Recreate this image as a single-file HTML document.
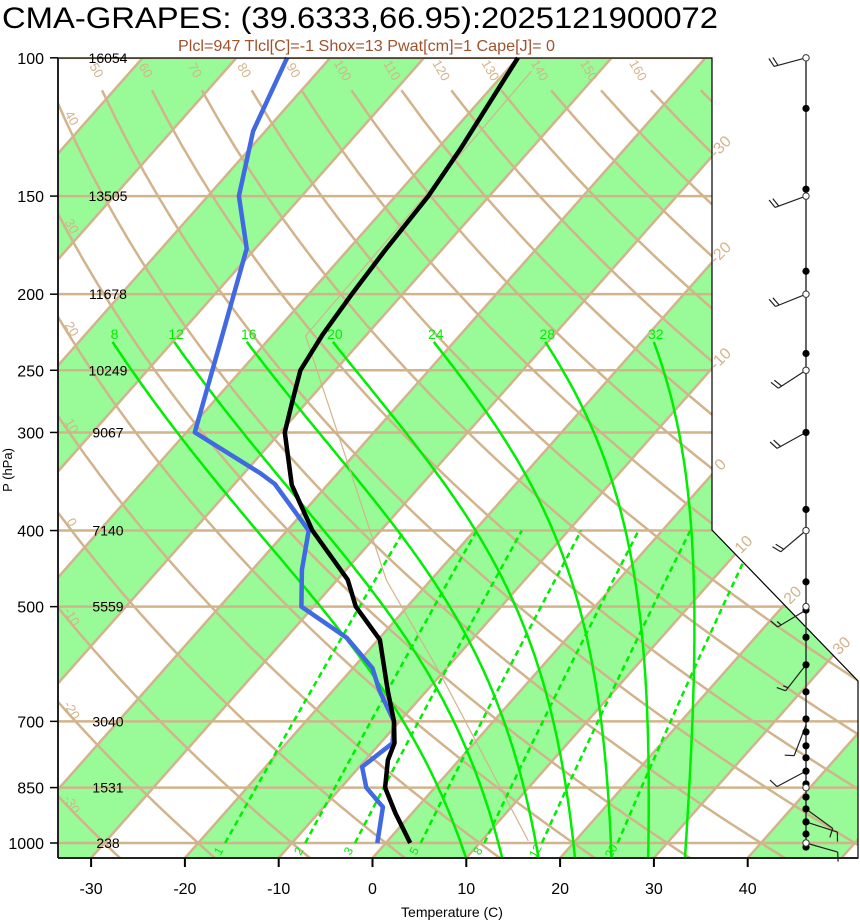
<!DOCTYPE html>
<html><head><meta charset="utf-8">
<style>
html,body{margin:0;padding:0;background:#fff;}
svg{display:block;font-family:"Liberation Sans",sans-serif;}
</style></head>
<body>
<svg id="chart" width="860" height="921" viewBox="0 0 860 921" xmlns="http://www.w3.org/2000/svg">
<defs><clipPath id="plotclip"><polygon points="58,58 712,58 712,530 858,681 858,858 58,858"/></clipPath></defs>
<text x="2" y="28" font-size="30" textLength="716" lengthAdjust="spacingAndGlyphs" fill="#000">CMA-GRAPES: (39.6333,66.95):2025121900072</text>
<text x="178" y="51" font-size="16" textLength="377" lengthAdjust="spacingAndGlyphs" fill="#a0522d">Plcl=947 Tlcl[C]=-1 Shox=13 Pwat[cm]=1 Cape[J]= 0</text>
<g id="bg" clip-path="url(#plotclip)"></g>
<g id="fg"></g>
</svg>
<script>
// ---- data ----
const isobars = [100,150,200,250,300,400,500,700,850,1000];
const heights = ["16054","13505","11678","10249","9067","7140","5559","3040","1531","238"];
const tempTicks = [-30,-20,-10,0,10,20,30,40];
const greenBandStarts = [-100,-80,-60,-40,-20,0,20,40];
const isothermValues = [-110,-100,-90,-80,-70,-60,-50,-40,-30,-20,-10,0,10,20,30,40,50,60];
const isothermLabels = [-30,-20,-10,0,10,20,30];
const dryThetas = [-30,-20,-10,0,10,20,30,40,50,60,70,80,90,100,110,120,130,140,150,160,170,180];
const moistThetaW = [8,12,16,20,24,28,32];
const mixRatios = [1,2,3,5,8,12,20];
const tempP = [1000,916,850,784,746,700,639,551,500,462,400,350,300,273,250,225,200,176,150,131,100];
const tempT = [2.6,-1.8,-5.3,-7.6,-8.5,-10.6,-14.2,-19.8,-25.5,-28.9,-37.3,-43.8,-49.5,-51.7,-53.7,-54.7,-55.4,-56.0,-56.5,-57.5,-60.0];
const dewP = [1000,900,850,800,746,700,639,599,548,500,449,400,349,338,300,227,175,150,124,100];
const dewT = [-0.9,-3.7,-7.3,-9.7,-8.7,-10.6,-15.1,-17.9,-23.5,-31.3,-34.7,-37.7,-45.7,-48.3,-59.1,-65.2,-70.9,-76.7,-81.3,-84.6];
const parcelP = [994,607,463,226,104];
const parcelT = [15.0,-10.3,-24.7,-56.4,-57.3];
const dotFilledP = [116,147,187,238,300,376,465,505,547,593,642,695,722,752,779,810,841,874,905,940,974,1012];
const dotOpenP = [100,150,200,250,400,500,850,1000];
const barbP = [100,150,200,250,300,400,505,593,707,810,905,940,1000];
const barbDir = [255,250,248,237,241,230,239,218,201,242,126,108,106];
const barbSpd = [20,20,20,20,20,20,15,15,10,10,10,10,10];

// ---- scales ----
const NS="http://www.w3.org/2000/svg";
function yP(p){return 843-341*Math.log(1000/p);}
function xT(T,p){return 372.5+9.38*T+0.885*(858-yP(p));}
function xAxisT(T){return 372.5+9.38*T;}
const bg=document.getElementById('bg'), fg=document.getElementById('fg');
function mk(tag,attrs,parent){const e=document.createElementNS(NS,tag);for(const k in attrs)e.setAttribute(k,attrs[k]);parent.appendChild(e);return e;}
function pts(arr){return arr.map(a=>a[0].toFixed(1)+','+a[1].toFixed(1)).join(' ');}
const TAN="#d2b48c", LIME="#00ee00";

greenBandStarts.forEach(t=>{
  const e=mk('polygon',{points:pts([[xT(t,1100),yP(1100)],[xT(t+10,1100),yP(1100)],[xT(t+10,80),yP(80)],[xT(t,80),yP(80)]]),fill:'#98fb98'},bg);
  
  
});
isobars.forEach(p=>{
  const e=mk('line',{x1:58,x2:858,y1:yP(p),y2:yP(p),stroke:TAN,'stroke-width':2.5},bg);
  
  
});
isothermValues.forEach(t=>{
  const e=mk('line',{x1:xT(t,1100),y1:yP(1100),x2:xT(t,80),y2:yP(80),stroke:TAN,'stroke-width':2.5},bg);
  
  
});
function dryT(th,p){return (th+273.15)*Math.pow(p/1000,0.286)-273.15;}
dryThetas.forEach(th=>{
  const a=[];for(let p=1100;p>=110;p-=10)a.push([xT(dryT(th,p),p),yP(p)]);
  a.push([xT(dryT(th,110),110),yP(110)]);
  const e=mk('polyline',{points:pts(a),fill:'none',stroke:TAN,'stroke-width':2.5},bg);
  
  
});
function dTdp(T,p){const es=6.112*Math.exp(17.67*(T-273.15)/(T-29.65));const rs=0.622*es/(p-es);const Lv=2.501e6,Rd=287,cp=1005;
  return ((Rd*T+Lv*rs)/p)/(cp+Lv*Lv*rs*0.622/(Rd*T*T));}
function moistCurve(thw){const up=[],down=[];let T=thw+273.15,p=1000;
  up.push([p,T]);
  while(p>230){const dp=-Math.min(5,p-230);const k1=dTdp(T,p);const k2=dTdp(T+k1*dp,p+dp);T+=0.5*(k1+k2)*dp;p+=dp;up.push([p,T]);}
  T=thw+273.15;p=1000;
  while(p<1060){const dp=5;const k1=dTdp(T,p);const k2=dTdp(T+k1*dp,p+dp);T+=0.5*(k1+k2)*dp;p+=dp;down.unshift([p,T]);}
  return down.concat(up).map(a=>[a[0],a[1]-273.15]);}
const moistG=mk('g',{'clip-path':'url(#plotclip)'},fg);
moistThetaW.forEach(th=>{
  const c=moistCurve(th);
  const e=mk('polyline',{points:pts(c.map(a=>[xT(a[1],a[0]),yP(a[0])])),fill:'none',stroke:LIME,'stroke-width':2.5},moistG);
  
  
  const top=c[c.length-1];
  const l=mk('text',{x:xT(top[1],top[0])+2,y:yP(top[0])-3,'font-size':14,fill:LIME,'text-anchor':'middle'},fg);
  l.textContent=th;
  
  
});
function mixT(w,p){const e=(w/1000)*p/(0.622+w/1000);const a=Math.log(e/6.112);return 243.5*a/(17.67-a);}
mixRatios.forEach(w=>{
  const a=[];for(let p=1000;p>=400;p-=20)a.push([xT(mixT(w,p),p),yP(p)]);
  const e=mk('polyline',{points:pts(a),fill:'none',stroke:LIME,'stroke-width':2.5,'stroke-dasharray':'6,4'},moistG);
  
  
  const lx=xT(mixT(w,1000),1000)-3, ly=yP(1000)+10;
  const l=mk('text',{x:lx,y:ly,'font-size':12,fill:LIME,'text-anchor':'middle',transform:`rotate(-60 ${lx} ${ly})`},fg);
  l.textContent=w;
  
  
});
dryThetas.forEach(th=>{
  if(th>160)return;
  let lx,ly;
  const xTop=xT(dryT(th,105),105);
  if(xTop>62){lx=xTop-2;ly=yP(105)-2;}
  else{let p=105;while(p<1100&&xT(dryT(th,p),p)<62)p+=1;if(p>=1050)return;lx=68;ly=yP(p)+6;}
  const l=mk('text',{x:lx,y:ly,'font-size':13,fill:TAN,'text-anchor':'middle',transform:`rotate(60 ${lx} ${ly})`},fg);
  l.textContent=th;
  
  
});
isothermLabels.forEach(t=>{
  let y=(372.5+9.38*t+0.885*858-712)/0.885, x=712;
  if(y>530){y=(372.5+9.38*t+0.885*858-712+530*0.967)/(0.885+0.967);x=712+(y-530)*0.967;}
  const lx=x+12, ly=y-6;
  const l=mk('text',{x:lx,y:ly,'font-size':16,fill:TAN,'text-anchor':'middle',transform:`rotate(-45 ${lx} ${ly})`},fg);
  l.textContent=t;
  
  
});
const pe=mk('polyline',{points:pts(parcelP.map((p,i)=>[xT(parcelT[i],p),yP(p)])),fill:'none',stroke:TAN,'stroke-width':1.2},moistG);


const de=mk('polyline',{points:pts(dewP.map((p,i)=>[xT(dewT[i],p),yP(p)])),fill:'none',stroke:'#4169e1','stroke-width':4.5,'stroke-linejoin':'round'},fg);


const te=mk('polyline',{points:pts(tempP.map((p,i)=>[xT(tempT[i],p),yP(p)])),fill:'none',stroke:'#000','stroke-width':4.5,'stroke-linejoin':'round'},fg);



const fr=mk('polyline',{points:'58,858 58,58 712,58 712,530 858,681 858,858 58,858',fill:'none',stroke:'#000','stroke-width':1.2},fg);


mk('line',{x1:58,y1:58,x2:58,y2:858,stroke:'#222','stroke-width':2},fg);
mk('line',{x1:58,y1:858,x2:858,y2:858,stroke:'#222','stroke-width':2},fg);
isobars.forEach((p,i)=>{
  const y=yP(p);
  mk('line',{x1:50,x2:58,y1:y,y2:y,stroke:'#000','stroke-width':1.5},fg);
  const l=mk('text',{x:44,y:y+6,'font-size':16,'text-anchor':'end',fill:'#000'},fg);
  l.textContent=p;
  
  
  const h=mk('text',{x:108,y:y+5,'font-size':14,'text-anchor':'middle',fill:'#000'},fg);
  h.textContent=heights[i];
  
  
});
tempTicks.forEach(t=>{
  const x=xAxisT(t);
  mk('line',{x1:x,x2:x,y1:858,y2:867,stroke:'#000','stroke-width':2},fg);
  const l=mk('text',{x:x,y:894,'font-size':16,'text-anchor':'middle',fill:'#000'},fg);
  l.textContent=t;
  
  
});
const xt=mk('text',{x:452,y:917,'font-size':14,'text-anchor':'middle',fill:'#000'},fg);
xt.textContent='Temperature (C)';


const yt=mk('text',{x:12,y:470,'font-size':13,'text-anchor':'middle',fill:'#000',transform:'rotate(-90 12 470)'},fg);
yt.textContent='P (hPa)';



const WX=806;
const st=mk('line',{x1:WX,x2:WX,y1:yP(100),y2:yP(1000),stroke:'#333','stroke-width':1.5},fg);


barbP.forEach((p,i)=>{
  const y=yP(p), d=barbDir[i]*Math.PI/180;
  const ux=Math.sin(d), uy=-Math.cos(d), L=33;
  const ex=WX+ux*L, ey=y+uy*L;
  let path=`M${WX},${y.toFixed(1)} L${ex.toFixed(1)},${ey.toFixed(1)}`;
  const px=-uy, py=ux;
  let n=Math.floor(barbSpd[i]/10), half=(barbSpd[i]%10)>=5;
  for(let k=0;k<n;k++){const bx=WX+ux*(L-k*4),by=y+uy*(L-k*4);path+=` M${bx.toFixed(1)},${by.toFixed(1)} l${(px*9+ux*3).toFixed(1)},${(py*9+uy*3).toFixed(1)}`;}
  if(half){const bx=WX+ux*(L-n*4),by=y+uy*(L-n*4);path+=` M${bx.toFixed(1)},${by.toFixed(1)} l${(px*5+ux*1.5).toFixed(1)},${(py*5+uy*1.5).toFixed(1)}`;}
  const e=mk('path',{d:path,fill:'none',stroke:'#222','stroke-width':1.2},fg);
  
  
});
dotFilledP.forEach(p=>{
  const e=mk('circle',{cx:WX,cy:yP(p),r:3.6,fill:'#000'},fg);
  
  
});
dotOpenP.forEach(p=>{
  const e=mk('circle',{cx:WX,cy:yP(p),r:3.2,fill:'#fff',stroke:'#333','stroke-width':1},fg);
  
  
});
</script>
</body></html>
